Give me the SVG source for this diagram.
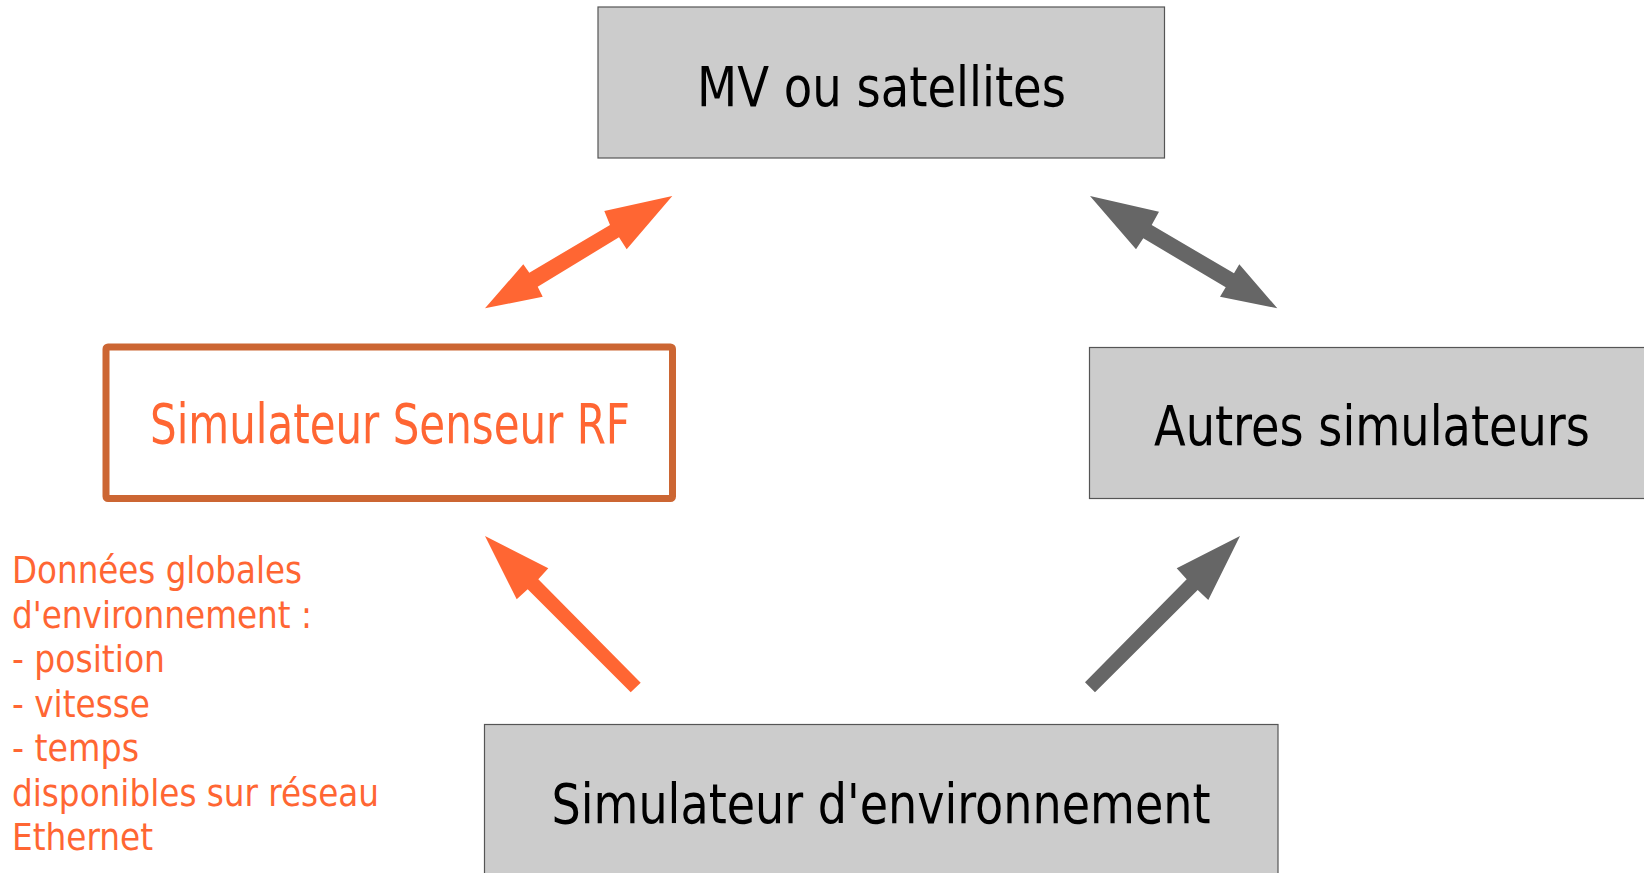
<svg xmlns="http://www.w3.org/2000/svg" width="1644" height="873" viewBox="0 0 1644 873">
<style>
.box{fill:#cccccc;stroke:#555555;stroke-width:1.2}
.rf{fill:#ffffff;stroke:#cc6633;stroke-width:7}
.t{font-family:"DejaVu Sans Condensed","DejaVu Sans",sans-serif;font-size:55px;fill:#000000;text-anchor:middle}
.to{fill:#ff6633}
.note{font-family:"DejaVu Sans Condensed","DejaVu Sans",sans-serif;font-size:38px;fill:#ff6633}
.ao{fill:#ff6633}
.ag{fill:#666666}
</style>
<rect width="1644" height="873" fill="#ffffff"/>
<g id="connectors">
<polygon class="ao" points="672.3,196 626.7,249.3 619,237.3 537.7,286.7 542.7,296.7 485,308.3 523.3,264.3 529.3,272.7 610,225 604.3,211"/>
<polygon class="ag" points="1090,196 1159,211.7 1151.7,225 1234,273.3 1239.3,264.3 1277.3,308.3 1220,296.7 1225.7,287.3 1143.3,238.3 1136,249.3"/>
<polygon class="ao" points="485,536 548.3,568.3 538.3,579.3 640.7,682.7 630.7,692.3 527.7,589.3 516.7,599.3"/>
<polygon class="ag" points="1240,536 1208.3,600 1197.7,590 1095,692.3 1085,682.3 1186.7,579.3 1176.7,568.3"/>
</g>
<g id="mv">
<rect class="box" x="598" y="7" width="566.5" height="151"/>
<text class="t" x="881.5" y="106" textLength="369" lengthAdjust="spacingAndGlyphs">MV ou satellites</text>
</g>
<g id="rf">
<rect class="rf" x="106" y="347" width="566.5" height="151.5" rx="2"/>
<text class="t to" x="390" y="443" textLength="480" lengthAdjust="spacingAndGlyphs">Simulateur Senseur RF</text>
</g>
<g id="autres">
<rect class="box" x="1089.5" y="347.5" width="600" height="151"/>
<text class="t" x="1372" y="445" textLength="436" lengthAdjust="spacingAndGlyphs">Autres simulateurs</text>
</g>
<g id="env">
<rect class="box" x="484.5" y="724.5" width="793.5" height="160"/>
<text class="t" x="881" y="823" textLength="659" lengthAdjust="spacingAndGlyphs">Simulateur d'environnement</text>
</g>
<g id="note">
<text class="note" x="12" y="583" textLength="290" lengthAdjust="spacingAndGlyphs">Données globales</text>
<text class="note" x="12" y="628" textLength="300" lengthAdjust="spacingAndGlyphs">d'environnement :</text>
<text class="note" x="12" y="672" textLength="153" lengthAdjust="spacingAndGlyphs">- position</text>
<text class="note" x="12" y="717" textLength="138" lengthAdjust="spacingAndGlyphs">- vitesse</text>
<text class="note" x="12" y="761" textLength="127" lengthAdjust="spacingAndGlyphs">- temps</text>
<text class="note" x="12" y="806" textLength="367" lengthAdjust="spacingAndGlyphs">disponibles sur réseau</text>
<text class="note" x="12" y="850" textLength="141" lengthAdjust="spacingAndGlyphs">Ethernet</text>
</g>
</svg>
